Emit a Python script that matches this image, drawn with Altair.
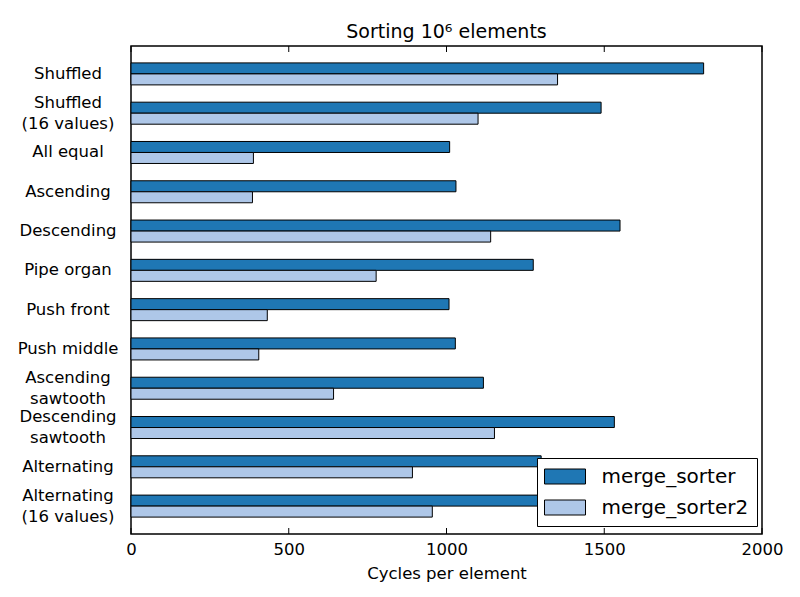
import altair as alt
import pandas as pd

categories = [
    "Shuffled", "Shuffled\n(16 values)", "All equal", "Ascending", "Descending",
    "Pipe organ", "Push front", "Push middle", "Ascending\nsawtooth",
    "Descending\nsawtooth", "Alternating", "Alternating\n(16 values)",
]
series = ["merge_sorter", "merge_sorter2"]
merge_sorter = [1815, 1490, 1010, 1030, 1550, 1275, 1008, 1028, 1117, 1532, 1300, 1300]
merge_sorter2 = [1352, 1100, 388, 385, 1140, 777, 432, 405, 642, 1152, 892, 955]
x_ticks = [0, 500, 1000, 1500, 2000]
colors = ["#1f77b4", "#aec7e8"]

rows = []
for i, c in enumerate(categories):
    rows.append({"category": c, "series": series[0], "value": merge_sorter[i]})
    rows.append({"category": c, "series": series[1], "value": merge_sorter2[i]})
df = pd.DataFrame(rows)
ticks_df = pd.DataFrame({"x": x_ticks})
one_line = pd.DataFrame({"category": [c for c in categories if "\n" not in c]})
two_line = pd.DataFrame({"category": [c for c in categories if "\n" in c]})

W, H = 631, 488
FONT = "DejaVu Sans"

xscale = alt.Scale(domain=[0, 2000], nice=False, zero=True)
yscale = alt.Scale(domain=categories, paddingInner=0.44, paddingOuter=0.43)

bars = alt.Chart(df).mark_bar(stroke="black", strokeWidth=1, opacity=1).encode(
    x=alt.X("value:Q", scale=xscale,
            axis=alt.Axis(values=x_ticks, format="d", title="Cycles per element",
                          grid=False, ticks=False, domain=False, labelPadding=7,
                          labelFlush=False,
                          labelFontSize=16.5, titleFontSize=16.5,
                          labelFont=FONT, titleFont=FONT, labelColor="black",
                          titleColor="black", titleFontWeight="normal",
                          titlePadding=8)),
    y=alt.Y("category:N", sort=categories, scale=yscale, axis=None),
    yOffset=alt.YOffset("series:N", sort=series,
                        scale=alt.Scale(paddingInner=0, paddingOuter=0)),
    color=alt.Color("series:N", sort=series,
                    scale=alt.Scale(domain=series, range=colors),
                    legend=alt.Legend(title=None, orient="none", legendX=406, legendY=412,
                                      fillColor="white", strokeColor="black",
                                      padding=8, cornerRadius=0,
                                      labelFontSize=20, labelFont=FONT, labelColor="black",
                                      symbolType="M-2.05,-0.75L2.05,-0.75L2.05,0.75L-2.05,0.75Z",
                                      symbolSize=400, symbolStrokeColor="black",
                                      symbolStrokeWidth=1, symbolOpacity=1,
                                      symbolOffset=9.5,
                                      rowPadding=10, labelOffset=26)),
)

label_one = alt.Chart(one_line).mark_text(
    align="center", baseline="middle", fontSize=16.5, font=FONT, color="black",
).encode(
    y=alt.Y("category:N", sort=categories, scale=yscale, axis=None),
    x=alt.value(-63),
    text="category:N",
)
label_two = alt.Chart(two_line).mark_text(
    align="center", baseline="middle", fontSize=16.5, font=FONT, color="black",
    lineBreak="\n", lineHeight=21, dy=-10.5,
).encode(
    y=alt.Y("category:N", sort=categories, scale=yscale, axis=None),
    x=alt.value(-63),
    text="category:N",
)

tick_bottom = alt.Chart(ticks_df).mark_rule(color="black", strokeWidth=1).encode(
    x=alt.X("x:Q", scale=xscale),
    y=alt.value(H), y2=alt.value(H - 6),
)
tick_top = alt.Chart(ticks_df).mark_rule(color="black", strokeWidth=1).encode(
    x=alt.X("x:Q", scale=xscale),
    y=alt.value(0), y2=alt.value(6),
)

chart = alt.layer(bars, label_one, label_two, tick_bottom, tick_top).properties(
    width=W, height=H,
    background="white",
    title=alt.TitleParams("Sorting 10⁶ elements", fontSize=19, font=FONT,
                          fontWeight="normal", color="black", offset=4),
    autosize=alt.AutoSizeParams(type="none"),
    padding={"left": 123, "top": 38, "right": 30, "bottom": 50},
).configure_view(stroke="black", strokeWidth=1.5, strokeOpacity=1)

chart.save("out.html", embed_options={"renderer": "svg", "actions": False})
